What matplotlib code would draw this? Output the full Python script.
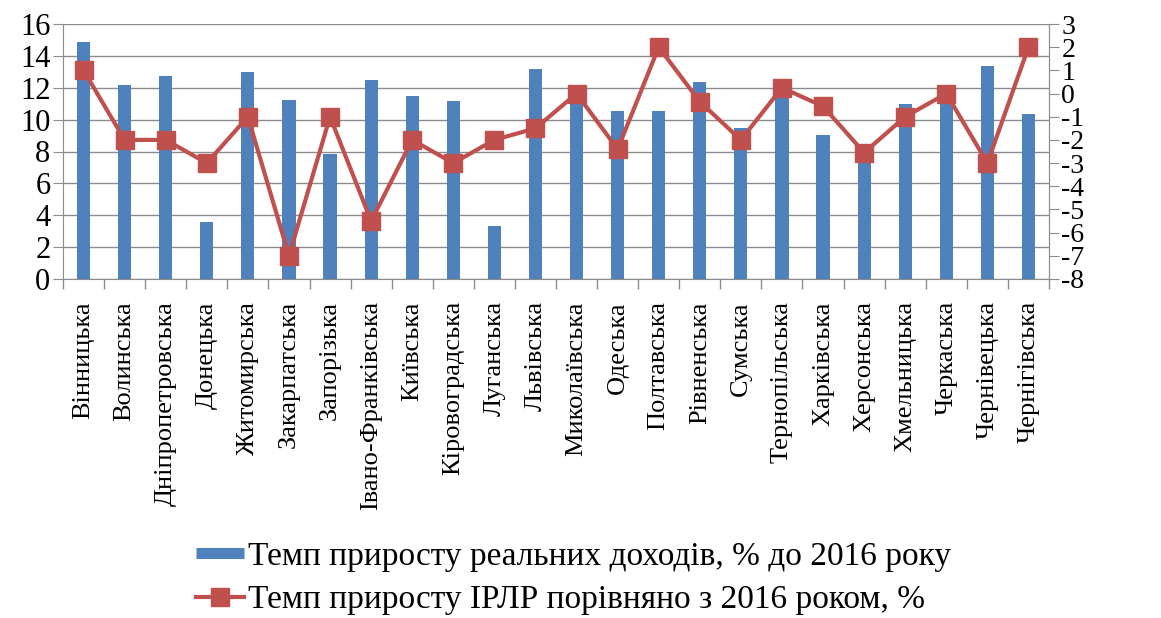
import numpy as np
import matplotlib
matplotlib.use("Agg")
import matplotlib.pyplot as plt
from matplotlib.lines import Line2D

plt.rcParams['font.family'] = ['Liberation Serif', 'DejaVu Serif']
plt.rcParams['axes.unicode_minus'] = False

# ---- data ----
regions = ["Вінницька", "Волинська", "Дніпропетровська", "Донецька", "Житомирська",
           "Закарпатська", "Запорізька", "Івано-Франківська", "Київська", "Кіровоградська",
           "Луганська", "Львівська", "Миколаївська", "Одеська", "Полтавська", "Рівненська",
           "Сумська", "Тернопільська", "Харківська", "Херсонська", "Хмельницька",
           "Черкаська", "Чернівецька", "Чернігівська"]
income_growth = [14.85, 12.17, 12.74, 3.55, 12.97, 11.25, 7.86, 12.46, 11.46, 11.19,
                 3.3, 13.15, 11.8, 10.54, 10.54, 12.38, 9.45, 11.8, 9.03, 8.0, 10.96,
                 11.6, 13.36, 10.33]
irlr_growth = [1, -2, -2, -3, -1, -7, -1, -5.5, -2, -3, -2, -1.5, 0, -2.4, 2, -0.35,
               -2, 0.25, -0.55, -2.55, -1, 0, -3, 2]

bar_label = "Темп приросту реальних доходів, % до 2016 року"
line_label = "Темп приросту ІРЛР порівняно з 2016 роком, %"

blue = "#4F81BD"
red = "#C0504D"
grid_c = "#8C8C8C"

fig = plt.figure(figsize=(11.61, 6.18), dpi=100)
ax = fig.add_axes([63/1161, 1 - 279/618, (1049-63)/1161, (279-24)/618])
x = np.arange(len(regions))

# bars: real income growth (left axis)
ax.bar(x, income_growth, width=0.32, color=blue, zorder=2)
ax.set_xlim(-0.5, len(regions) - 0.5)
ax.set_ylim(0, 16)
ax.set_yticks(np.arange(0, 17, 2))
ax.yaxis.grid(True, color=grid_c, linewidth=1.0, zorder=0)
ax.set_axisbelow(True)

ax.set_xticks(x)
ax.set_xticklabels(regions, rotation=90, fontsize=19, va="top")
ax.tick_params(axis="x", length=0, pad=16)
ax.set_xticks(np.arange(-0.5, len(regions), 1), minor=True)
ax.tick_params(axis="x", which="minor", length=7, color=grid_c, width=1)
ax.tick_params(axis="y", labelsize=22, length=7, color=grid_c, pad=2)

ax.spines["top"].set_visible(False)
for s in ["left", "bottom", "right"]:
    ax.spines[s].set_color(grid_c)

# line: IRLR growth (right axis)
ax2 = ax.twinx()
ax2.plot(x, irlr_growth, color=red, linewidth=3, marker="s", markersize=13,
         markerfacecolor=red, markeredgecolor=red, zorder=3)
ax2.set_ylim(-8, 3)
ax2.set_yticks(np.arange(-8, 4, 1))
ax2.tick_params(axis="y", labelsize=20, length=7, color=grid_c, pad=2)
for s in ["top", "left", "bottom"]:
    ax2.spines[s].set_visible(False)
ax2.spines["right"].set_color(grid_c)

handles = [Line2D([0], [0], color=blue, linewidth=8, solid_capstyle="butt"),
           Line2D([0], [0], color=red, linewidth=3, marker="s", markersize=13)]
fig.legend(handles, [bar_label, line_label], loc="upper left",
           bbox_to_anchor=(196/1161, 1 - 541/618), frameon=False, fontsize=24,
           handlelength=1.45, handletextpad=0.12, labelspacing=0.4,
           borderaxespad=0, borderpad=0)

fig.savefig("out.png", dpi=100)
